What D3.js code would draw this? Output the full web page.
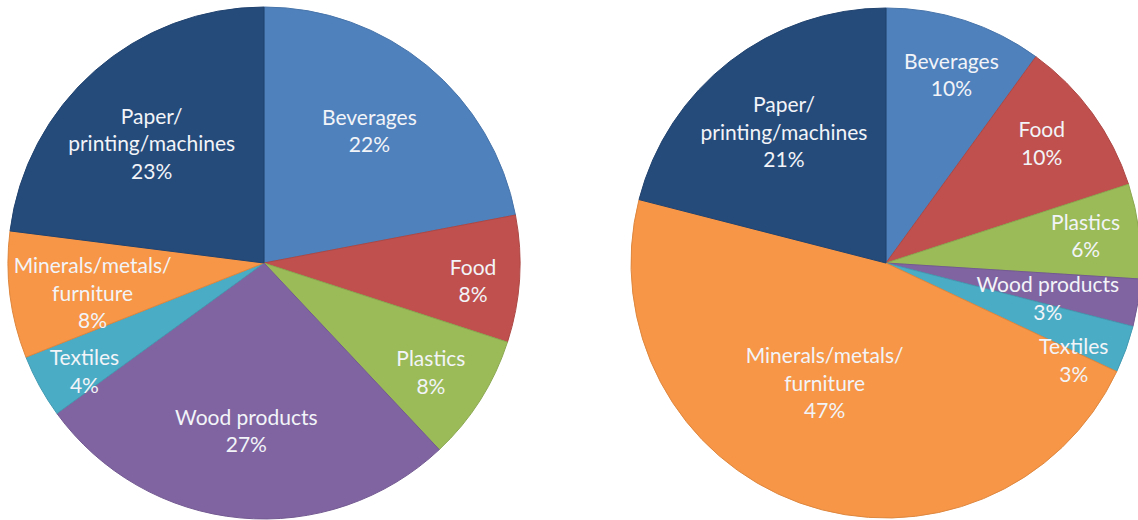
<!DOCTYPE html>
<html>
<head>
<meta charset="utf-8">
<script src="https://cdn.jsdelivr.net/npm/d3@7"></script>
<style>
  body { margin: 0; background: #fff; }
  svg { display: block; }
  .lbl { font-family: Lato, "Open Sans", sans-serif; font-size: 21px; fill: #f2f4f8; }
</style>
</head>
<body>
<div id="chart"></div>
<script>
// slices, clockwise from 12 o'clock
var categories = ["Beverages", "Food", "Plastics", "Wood products", "Textiles",
  "Minerals/metals/furniture", "Paper/printing/machines"];
var labelLines = [["Beverages"], ["Food"], ["Plastics"], ["Wood products"], ["Textiles"],
  ["Minerals/metals/", "furniture"], ["Paper/", "printing/machines"]];
var leftValues = [22, 8, 8, 27, 4, 8, 23];
var rightValues = [10, 10, 6, 3, 3, 47, 21];
var colors = ["#4f81bd", "#c0504d", "#9bbb59", "#8064a2", "#4bacc6", "#f79646", "#254b7b"];

// label placement (fraction of radius, angle nudge in degrees) - Excel "best fit" look
var leftLabelPos = [[0.66, -1], [0.82, 1.4], [0.78, 0.9], [0.66, 0.6], [0.82, -2.4], [0.68, -2.8], [0.64, -1.9]];
var rightLabelPos = [[0.78, 1.2], [0.77, -1.5], [0.79, -0.5], [0.65, 3.5], [0.83, 7.7], [0.53, 7.2], [0.65, -0.2]];

var svgWidth = 1138;
var svgHeight = 520;
var lineH = 27.5;

var svg = d3.select("#chart")
  .append("svg")
  .attr("width", svgWidth)
  .attr("height", svgHeight);

var pie = d3.pie().sort(null).value(d => d);

function drawPie(values, cx, cy, radius, labelPos) {
  var g = svg.append("g")
    .attr("transform", `translate(${cx}, ${cy})`);

  var arc = d3.arc().innerRadius(0).outerRadius(radius);
  var arcs = pie(values);

  g.selectAll("path")
    .data(arcs)
    .enter()
    .append("path")
    .attr("d", arc)
    .attr("fill", (d, i) => colors[i])
    .attr("stroke", (d, i) => d3.color(colors[i]).darker(0.3))
    .attr("stroke-width", 1);

  arcs.forEach(function(d, i) {
    var mid = (d.startAngle + d.endAngle) / 2 + labelPos[i][1] * Math.PI / 180;
    var r = radius * labelPos[i][0];
    var x = r * Math.sin(mid);
    var y = -r * Math.cos(mid);
    var lines = labelLines[i].concat([d.data + "%"]);
    var text = g.append("text")
      .attr("class", "lbl")
      .attr("text-anchor", "middle");
    lines.forEach(function(t, j) {
      text.append("tspan")
        .attr("x", x)
        .attr("y", y + (j - (lines.length - 1) / 2) * lineH)
        .attr("dy", "0.35em")
        .text(t);
    });
  });
}

drawPie(leftValues, 264, 263, 256, leftLabelPos);
drawPie(rightValues, 886, 263, 255, rightLabelPos);
</script>
</body>
</html>
